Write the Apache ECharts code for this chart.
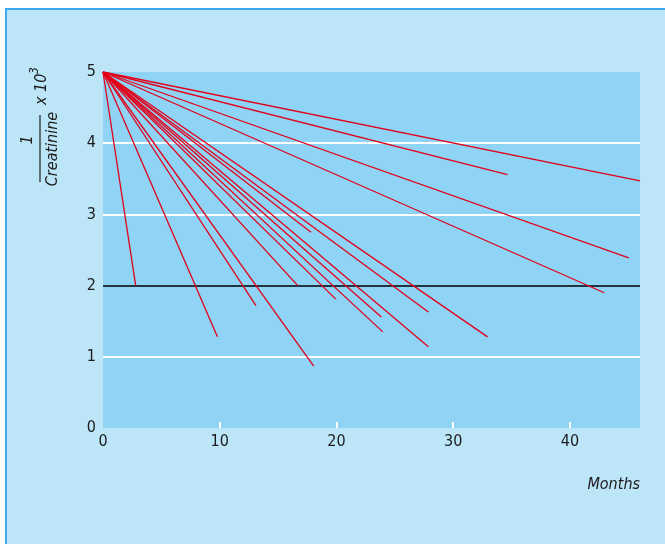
<!DOCTYPE html>
<html>
<head>
<meta charset="utf-8">
<script src="https://cdn.jsdelivr.net/npm/echarts@6/dist/echarts.min.js"></script>
<style>
html,body{margin:0;padding:0;background:#fff;overflow:hidden;width:665px;height:544px;}
#panel{position:absolute;left:5px;top:8px;width:700px;height:600px;background:#bde5f8;
  border-left:2px solid #3fa9ef;border-top:2px solid #3fa9ef;}
#c{position:absolute;left:0;top:0;width:665px;height:544px;}
</style>
</head>
<body>
<div id="panel"></div>
<div id="c"></div>
<script>
// Data: every patient line starts at (0, 5)
var startPoint = [0, 5];
var endMonths = [2.8, 9.8, 13.1, 18.05, 16.68, 17.82, 19.94, 23.84, 23.97, 27.87, 27.87, 32.94, 34.65, 42.94, 45.04, 46.0];
var endValues = [2.0, 1.28, 1.72, 0.87, 2.0, 2.75, 1.81, 1.56, 1.35, 1.63, 1.14, 1.28, 3.56, 1.90, 2.39, 3.47];
var xTickLabels = [0, 10, 20, 30, 40];
var yTickLabels = [0, 1, 2, 3, 4, 5];

var FONT = "'Liberation Sans Narrow','DejaVu Sans Condensed','Liberation Sans',sans-serif";
var TXT = '#1b1b1b';

var series = endMonths.map(function (m, i) {
  return {
    type: 'line',
    data: [startPoint, [m, endValues[i]]],
    symbol: 'none',
    silent: true,
    clip: true,
    z: 3,
    lineStyle: { color: '#e2001a', width: 1.3 }
  };
});

var chart = echarts.init(document.getElementById('c'), null, { renderer: 'canvas' });
chart.setOption({
  animation: false,
  backgroundColor: 'transparent',
  grid: {
    left: 103, top: 72, right: 25, bottom: 116,
    show: true, backgroundColor: '#8fd3f5', borderWidth: 0
  },
  xAxis: {
    type: 'value', min: 0, max: 46, interval: 10,
    axisLine: { show: false },
    axisTick: { show: true, inside: true, length: 6, customValues: [10, 20, 30, 40],
      lineStyle: { color: '#ffffff', width: 2 } },
    axisLabel: { color: TXT, fontFamily: FONT, fontSize: 16, margin: 6,
      customValues: xTickLabels },
    splitLine: { show: false }
  },
  yAxis: {
    type: 'value', min: 0, max: 5, interval: 1,
    axisLine: { show: false },
    axisTick: { show: false },
    axisLabel: { color: TXT, fontFamily: FONT, fontSize: 16, margin: 7,
      customValues: yTickLabels },
    splitLine: { show: true, lineStyle: {
      color: ['rgba(0,0,0,0)', '#ffffff', '#22343d', '#ffffff', '#ffffff', 'rgba(0,0,0,0)'],
      width: 2 } }
  },
  graphic: [
    { type: 'text', right: 25, top: 477, silent: true,
      style: { text: 'Months', font: 'italic 16px ' + FONT, fill: TXT } },
    { type: 'group', x: 40, y: 182, rotation: Math.PI / 2, silent: true,
      children: [
        { type: 'line', shape: { x1: 0, y1: 0, x2: 67, y2: 0 },
          style: { stroke: '#1b1b1b', lineWidth: 1.2 } },
        { type: 'text', x: 42, y: -4,
          style: { text: '1', font: 'italic 16px ' + FONT, fill: TXT,
            align: 'center', verticalAlign: 'bottom' } },
        { type: 'text', x: 33, y: 5,
          style: { text: 'Creatinine', font: 'italic 16px ' + FONT, fill: TXT,
            align: 'center', verticalAlign: 'top' } },
        { type: 'text', x: 77, y: 2,
          style: { text: 'x 10', font: 'italic 16px ' + FONT, fill: TXT,
            align: 'left', verticalAlign: 'middle' } },
        { type: 'text', x: 108, y: -5,
          style: { text: '3', font: 'italic 12px ' + FONT, fill: TXT,
            align: 'left', verticalAlign: 'middle' } }
      ] }
  ],
  series: series
});
</script>
</body>
</html>
